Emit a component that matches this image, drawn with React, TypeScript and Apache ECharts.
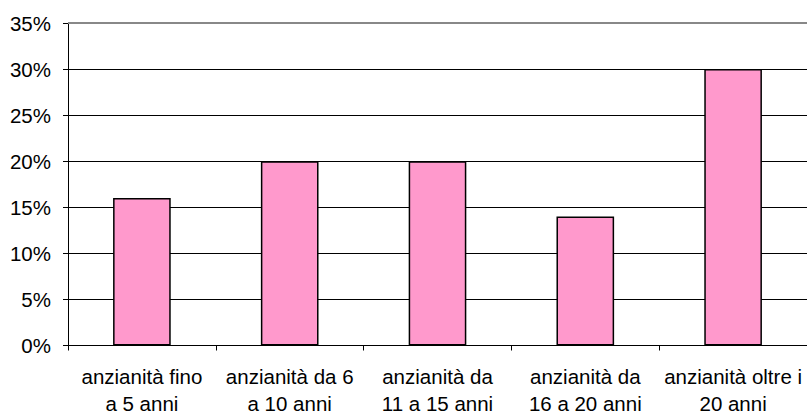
import React, { useEffect, useRef } from "react";
import * as echarts from "echarts";

const categories = [
  "anzianità fino\na 5 anni",
  "anzianità da 6\na 10 anni",
  "anzianità da\n11 a 15 anni",
  "anzianità da\n16 a 20 anni",
  "anzianità oltre i\n20 anni",
];
const values = [16, 20, 20, 14, 30];
const yTicks = { min: 0, max: 35, interval: 5 };

const FONT = "'Liberation Sans', Arial, sans-serif";

export default function App() {
  const ref = useRef<HTMLDivElement>(null);
  useEffect(() => {
    if (!ref.current) return;
    const chart = echarts.init(ref.current, undefined, { renderer: "svg" });
    chart.setOption({
      animation: false,
      backgroundColor: "#ffffff",
      textStyle: { fontFamily: FONT },
      grid: {
        left: 68,
        right: 0,
        top: 23,
        bottom: 68.5,
        containLabel: false,
        outerBoundsMode: "none",
      },
      xAxis: {
        type: "category",
        data: categories,
        boundaryGap: true,
        axisLine: { show: true, lineStyle: { color: "#000", width: 1 } },
        axisTick: { show: true, length: 5, alignWithLabel: false, lineStyle: { color: "#000" } },
        axisLabel: {
          color: "#000",
          fontSize: 20.5,
          lineHeight: 27,
          margin: 17,
          interval: 0,
          fontFamily: FONT,
        },
        splitLine: { show: false },
      },
      yAxis: {
        type: "value",
        min: yTicks.min,
        max: yTicks.max,
        interval: yTicks.interval,
        axisLine: { show: true, lineStyle: { color: "#000", width: 1 } },
        axisTick: { show: true, length: 5, lineStyle: { color: "#000" } },
        axisLabel: {
          color: "#000",
          fontSize: 20.5,
          margin: 17,
          formatter: (v: number) => `${v}%`,
          fontFamily: FONT,
        },
        splitLine: {
          show: true,
          lineStyle: { color: ["#000", "#000", "#000", "#000", "#000", "#000", "#000", "#888"], width: 1 },
        },
      },
      series: [
        {
          type: "bar",
          data: values,
          barWidth: "39%",
          itemStyle: { color: "#FF99CC", borderColor: "#000", borderWidth: 1.5 },
          markLine: {
            silent: true,
            symbol: "none",
            label: { show: false },
            lineStyle: { color: "#888", width: 2, type: "solid" },
            data: [{ yAxis: yTicks.max }],
          },
        },
      ],
    });
    return () => chart.dispose();
  }, []);
  return (
    <div
      ref={ref}
      style={{ position: "fixed", left: 0, top: 0, width: 807, height: 414 }}
    />
  );
}
